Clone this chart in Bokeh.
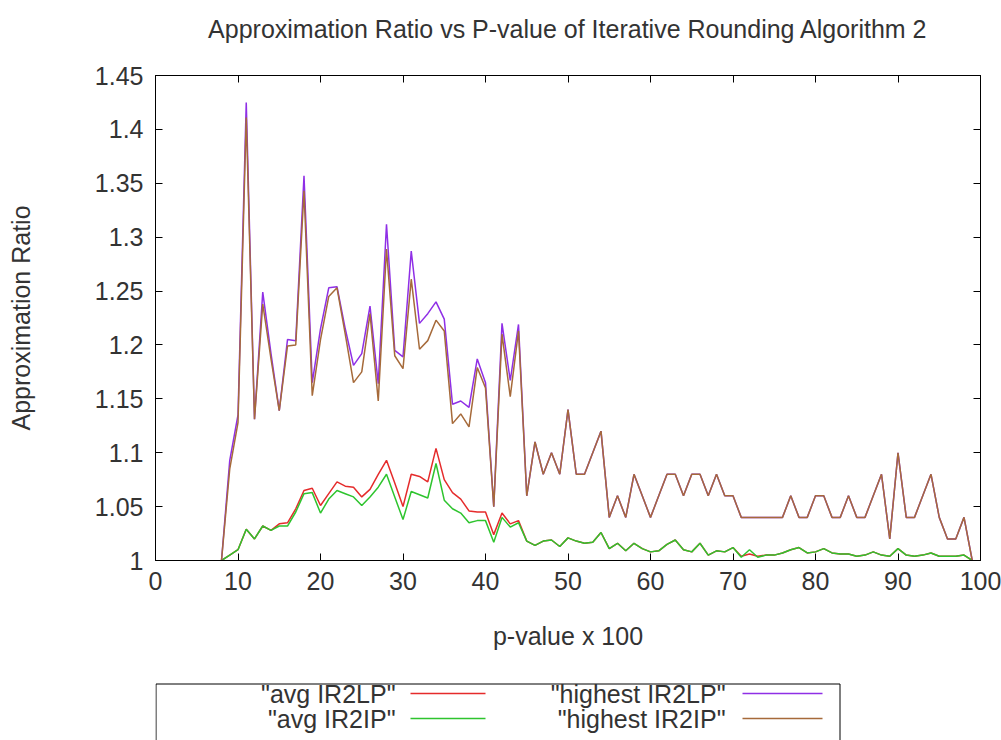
from bokeh.plotting import figure
from bokeh.models import Range1d, FixedTicker, LinearAxis
from bokeh.layouts import column
from bokeh.embed import file_html
from bokeh.resources import INLINE
from bokeh.core.properties import value

# ---------------- data ----------------
p_value = list(range(8, 100))

avg_ir2lp = [1.000, 1.005, 1.010, 1.029, 1.020, 1.032, 1.028, 1.034, 1.035, 1.048,
             1.065, 1.067, 1.051, 1.062, 1.073, 1.069, 1.068, 1.059, 1.066, 1.080,
             1.093, 1.072, 1.050, 1.080, 1.078, 1.073, 1.104, 1.075, 1.063, 1.057,
             1.046, 1.045, 1.045, 1.024, 1.044, 1.034, 1.037, 1.018, 1.014, 1.018,
             1.019, 1.013, 1.021, 1.018, 1.016, 1.017, 1.026, 1.011, 1.016, 1.009,
             1.016, 1.011, 1.008, 1.009, 1.015, 1.019, 1.010, 1.008, 1.016, 1.005,
             1.009, 1.008, 1.012, 1.004, 1.006, 1.004, 1.005, 1.005, 1.007, 1.010,
             1.012, 1.007, 1.008, 1.011, 1.007, 1.006, 1.006, 1.004, 1.005, 1.008,
             1.005, 1.004, 1.011, 1.005, 1.004, 1.005, 1.007, 1.004, 1.004, 1.004,
             1.005, 1.000]

avg_ir2ip = [1.000, 1.005, 1.010, 1.029, 1.020, 1.032, 1.028, 1.032, 1.032, 1.045,
             1.062, 1.063, 1.044, 1.057, 1.065, 1.062, 1.059, 1.051, 1.059, 1.068,
             1.080, 1.059, 1.038, 1.064, 1.061, 1.058, 1.090, 1.056, 1.048, 1.044,
             1.035, 1.037, 1.037, 1.017, 1.040, 1.031, 1.035, 1.018, 1.014, 1.018,
             1.019, 1.013, 1.021, 1.018, 1.016, 1.017, 1.026, 1.011, 1.016, 1.009,
             1.016, 1.011, 1.008, 1.009, 1.015, 1.019, 1.010, 1.008, 1.016, 1.005,
             1.009, 1.008, 1.012, 1.003, 1.010, 1.003, 1.005, 1.005, 1.007, 1.010,
             1.012, 1.007, 1.008, 1.011, 1.007, 1.006, 1.006, 1.004, 1.005, 1.008,
             1.005, 1.004, 1.011, 1.005, 1.004, 1.005, 1.007, 1.004, 1.004, 1.004,
             1.005, 1.000]

highest_ir2lp = [1.000, 1.093, 1.135, 1.425, 1.131, 1.249, 1.192, 1.139, 1.205, 1.204,
                 1.357, 1.165, 1.215, 1.253, 1.254, 1.215, 1.181, 1.192, 1.236, 1.164,
                 1.312, 1.195, 1.189, 1.287, 1.220, 1.229, 1.240, 1.224, 1.145, 1.148,
                 1.142, 1.187, 1.165, 1.050, 1.220, 1.167, 1.219, 1.060, 1.110, 1.080,
                 1.100, 1.080, 1.140, 1.080, 1.080, 1.100, 1.120, 1.040, 1.060, 1.040,
                 1.080, 1.060, 1.040, 1.060, 1.080, 1.080, 1.060, 1.080, 1.080, 1.060,
                 1.080, 1.060, 1.060, 1.040, 1.040, 1.040, 1.040, 1.040, 1.040, 1.060,
                 1.040, 1.040, 1.060, 1.060, 1.040, 1.040, 1.060, 1.040, 1.040, 1.060,
                 1.080, 1.020, 1.100, 1.040, 1.040, 1.060, 1.080, 1.040, 1.020, 1.020,
                 1.040, 1.000]

highest_ir2ip = [1.000, 1.085, 1.128, 1.411, 1.131, 1.238, 1.187, 1.139, 1.199, 1.200,
                 1.343, 1.153, 1.205, 1.245, 1.253, 1.210, 1.165, 1.175, 1.229, 1.148,
                 1.289, 1.190, 1.178, 1.261, 1.196, 1.204, 1.223, 1.213, 1.127, 1.136,
                 1.124, 1.179, 1.160, 1.050, 1.210, 1.152, 1.213, 1.060, 1.110, 1.080,
                 1.100, 1.080, 1.140, 1.080, 1.080, 1.100, 1.120, 1.040, 1.060, 1.040,
                 1.080, 1.060, 1.040, 1.060, 1.080, 1.080, 1.060, 1.080, 1.080, 1.060,
                 1.080, 1.060, 1.060, 1.040, 1.040, 1.040, 1.040, 1.040, 1.040, 1.060,
                 1.040, 1.040, 1.060, 1.060, 1.040, 1.040, 1.060, 1.040, 1.040, 1.060,
                 1.080, 1.020, 1.100, 1.040, 1.040, 1.060, 1.080, 1.040, 1.020, 1.020,
                 1.040, 1.000]

x_ticks = [0, 10, 20, 30, 40, 50, 60, 70, 80, 90, 100]
y_ticks = [1.0, 1.05, 1.1, 1.15, 1.2, 1.25, 1.3, 1.35, 1.4, 1.45]
y_tick_labels = ["1", "1.05", "1.1", "1.15", "1.2", "1.25", "1.3", "1.35", "1.4", "1.45"]

series_labels = ['"avg IR2LP"', '"avg IR2IP"', '"highest IR2LP"', '"highest IR2IP"']
series_colors = ["#e52b2b", "#2ec42e", "#8f2fe6", "#a66a3a"]

title_text = "Approximation Ratio vs P-value of Iterative Rounding Algorithm 2"
x_label = "p-value x 100"
y_label = "Approximation Ratio"

FONT = "Liberation Sans"
FS = "25px"
TXT = "#333333"


def blank_panel(height):
    # helper strip sharing the main plot's horizontal borders: data x == page pixel x
    f = figure(width=1001, height=height, x_range=Range1d(155, 980), y_range=Range1d(height, 0),
               output_backend="svg", toolbar_location=None,
               min_border_left=155, min_border_right=21, min_border_top=0, min_border_bottom=0)
    f.axis.visible = False
    f.grid.visible = False
    f.outline_line_color = None
    f.border_fill_color = "white"
    return f


# ---------------- title strip ----------------
hd = blank_panel(55)
hd.text(x=[567.5], y=[28], text=[title_text], text_align="center", text_baseline="middle",
        text_font=value(FONT), text_font_size=FS, text_color=TXT)

# ---------------- main plot ----------------
p = figure(width=1001, height=613, x_range=Range1d(0, 100), y_range=Range1d(1, 1.45),
           output_backend="svg", toolbar_location=None,
           min_border_left=155, min_border_right=21, min_border_top=20, min_border_bottom=108)

p.grid.visible = False
p.outline_line_color = "black"
p.outline_line_width = 1
p.background_fill_color = "white"
p.border_fill_color = "white"

for ax in (p.xaxis[0], p.yaxis[0]):
    ax.major_tick_in = 7
    ax.major_tick_out = 0
    ax.minor_tick_line_color = None
    ax.axis_line_color = "black"
    ax.major_tick_line_color = "black"
    ax.major_label_text_font = FONT
    ax.major_label_text_font_size = FS
    ax.major_label_text_color = TXT
    ax.axis_label_text_font = FONT
    ax.axis_label_text_font_size = FS
    ax.axis_label_text_font_style = "normal"
    ax.axis_label_text_color = TXT

p.xaxis[0].ticker = FixedTicker(ticks=x_ticks)
p.yaxis[0].ticker = FixedTicker(ticks=y_ticks)
p.yaxis[0].major_label_overrides = {t: s for t, s in zip(y_ticks, y_tick_labels)}
p.xaxis[0].major_label_standoff = 11
p.yaxis[0].major_label_standoff = 12
p.xaxis[0].axis_label = x_label
p.yaxis[0].axis_label = y_label
p.xaxis[0].axis_label_standoff = 29
p.yaxis[0].axis_label_standoff = 57

# mirror ticks on top and right
top_ax = LinearAxis(ticker=FixedTicker(ticks=x_ticks), major_tick_in=7, major_tick_out=0,
                    minor_tick_line_color=None, major_label_text_font_size="0px",
                    major_label_standoff=0, axis_line_color="black")
right_ax = LinearAxis(ticker=FixedTicker(ticks=y_ticks), major_tick_in=7, major_tick_out=0,
                      minor_tick_line_color=None, major_label_text_font_size="0px",
                      major_label_standoff=0, axis_line_color="black")
p.add_layout(top_ax, "above")
p.add_layout(right_ax, "right")

for ys, col in zip([avg_ir2lp, avg_ir2ip, highest_ir2lp, highest_ir2ip], series_colors):
    p.line(p_value, ys, line_color=col, line_width=1.5)

# ---------------- legend (gnuplot style key below plot) ----------------
lg = blank_panel(72)
# key box (bottom edge falls outside the window, as in the original)
lg.line([155.5, 155.5, 839.5, 839.5], [90, 15.5, 15.5, 90], line_color="black", line_width=1)

text_x = [395, 395, 725, 725]
text_y = [25, 50, 25, 50]
lg.text(x=text_x, y=text_y, text=series_labels, text_align="right",
        text_baseline="middle", text_font=value(FONT), text_font_size=FS,
        text_color=TXT)
xs = [[410, 485], [410, 485], [742, 822], [742, 822]]
ys = [[25, 25], [50, 50], [25, 25], [50, 50]]
lg.multi_line(xs, ys, line_color=series_colors, line_width=1.5)

layout = column(hd, p, lg)
open("out.html", "w").write(file_html(layout, INLINE))
